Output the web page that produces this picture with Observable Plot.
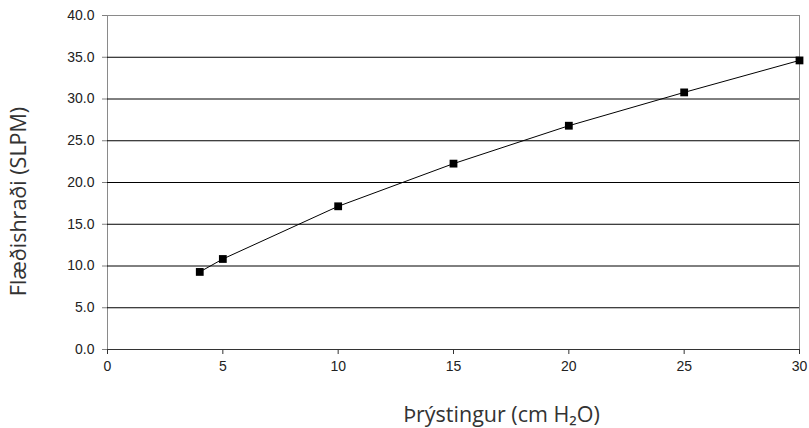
<!DOCTYPE html>
<html>
<head>
<meta charset="utf-8">
<script src="https://cdn.jsdelivr.net/npm/d3@7"></script>
<script src="https://cdn.jsdelivr.net/npm/@observablehq/plot@0.6"></script>
<style>
  html, body { margin: 0; padding: 0; background: #fff; }
</style>
</head>
<body>
<div id="chart"></div>
<script>
const pressure = [4, 5, 10, 15, 20, 25, 30];
const flow = [9.29, 10.84, 17.15, 22.26, 26.80, 30.79, 34.62];
const xTicks = [0, 5, 10, 15, 20, 25, 30];
const yTicks = [0, 5, 10, 15, 20, 25, 30, 35, 40];
const gridTicks = [5, 10, 15, 20, 25, 30, 35];
const xTitle = "Þrýstingur (cm H₂O)";
const yTitle = "Flæðishraði (SLPM)";

const data = pressure.map((p, i) => ({p, f: flow[i]}));

const chart = Plot.plot({
  width: 809,
  height: 428,
  marginLeft: 107,
  marginRight: 10,
  marginTop: 15,
  marginBottom: 79,
  style: {fontFamily: "Arial, 'Liberation Sans', sans-serif", fontSize: "14px", color: "#222", background: "#fff"},
  x: {domain: [0, 30]},
  y: {domain: [0, 40]},
  marks: [
    Plot.frame({stroke: "#8a8a8a"}),
    Plot.gridY(gridTicks, {stroke: "#000", strokeOpacity: 1}),
    Plot.axisY(yTicks, {tickFormat: d => d.toFixed(1), tickSize: 5, tickPadding: 8, stroke: "#808080", fill: "#222", label: null}),
    Plot.axisX(xTicks, {tickFormat: d => String(d), tickSize: 5, tickPadding: 7, stroke: "#333", fill: "#222", label: null}),
    Plot.ruleY([0], {stroke: "#333"}),
    Plot.line(data, {x: "p", y: "f", stroke: "#000", strokeWidth: 1}),
    Plot.dot(data, {x: "p", y: "f", symbol: "square", r: 4.4, fill: "#000", stroke: "none"}),
    Plot.text([xTitle], {frameAnchor: "bottom", text: d => d, textAnchor: "middle", dx: 48, dy: 66, lineAnchor: "middle", fontFamily: "'Open Sans', 'Noto Sans', sans-serif", fontSize: 21.5, fill: "#333"}),
    Plot.text([yTitle], {frameAnchor: "left", text: d => d, textAnchor: "middle", rotate: -90, dx: -88, dy: 19, lineAnchor: "middle", fontFamily: "'Open Sans', 'Noto Sans', sans-serif", fontSize: 21.5, fill: "#333"})
  ]
});
document.getElementById("chart").appendChild(chart);
</script>
</body>
</html>
